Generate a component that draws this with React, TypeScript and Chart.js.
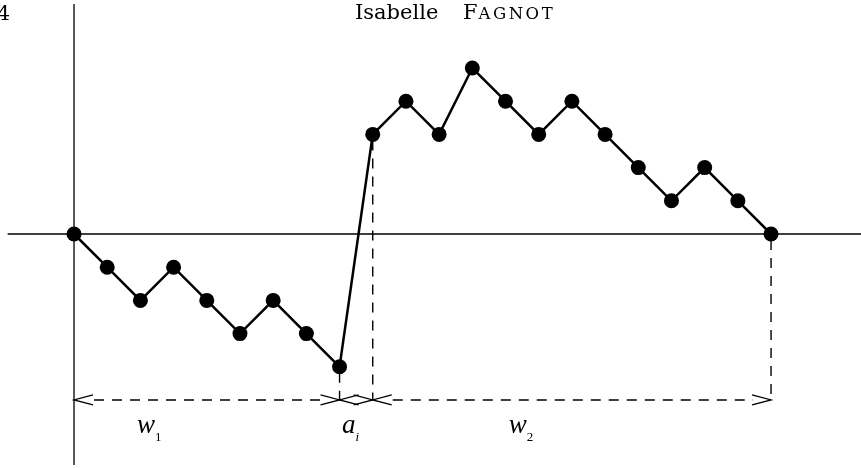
import { useEffect, useRef } from 'react';
import { Chart, registerables } from 'chart.js';

Chart.register(...registerables);

// Step index of the walk (horizontal position of each vertex)
const steps = [0, 1, 2, 3, 4, 5, 6, 7, 8, 9, 10, 11, 12, 13, 14, 15, 16, 17, 18, 19, 20, 21];
// Height of the walk at each step
const walk = [0, -1, -2, -1, -2, -3, -2, -3, -4, 3, 4, 3, 5, 4, 3, 4, 3, 2, 1, 2, 1, 0];
// Steps bounding the segments w1, a_i, w2
const w1Range = [0, 8];
const aiRange = [8, 9];
const w2Range = [9, 21];
// Level of the measuring arrows and of the labels
const arrowLevel = -5;
const labelLevel = -6;
// Labels: [main letter, subscript, anchor step]
const segLabels: [string, string, number][] = [
  ['w', '1', 1.9],
  ['a', 'i', 8.07],
  ['w', '2', 13.1],
];
const pageNumber = '4';
const authorFirst = 'Isabelle';
const authorLast = 'Fagnot';

const figurePlugin = {
  id: 'figure',
  beforeDatasetsDraw(chart: any) {
    const ctx: CanvasRenderingContext2D = chart.ctx;
    const xs = chart.scales.x;
    const ys = chart.scales.y;
    const px = (v: number) => xs.getPixelForValue(v);
    const py = (v: number) => ys.getPixelForValue(v);
    const area = chart.chartArea;
    ctx.save();
    // axes
    ctx.strokeStyle = '#000';
    ctx.lineWidth = 1.3;
    ctx.beginPath();
    ctx.moveTo(px(-2), py(0));
    ctx.lineTo(area.right, py(0));
    ctx.moveTo(px(0), area.top + 4);
    ctx.lineTo(px(0), area.bottom - 3);
    ctx.stroke();

    // dashed guides
    ctx.strokeStyle = '#000';
    ctx.lineWidth = 1.4;
    ctx.setLineDash([10, 8]);
    const verticals = [aiRange[0], aiRange[1], w2Range[1]];
    ctx.beginPath();
    for (const s of verticals) {
      ctx.moveTo(px(s), py(walk[s]) + 6);
      ctx.lineTo(px(s), py(arrowLevel));
    }
    ctx.stroke();
    ctx.beginPath();
    ctx.moveTo(px(w1Range[0]) + 20, py(arrowLevel));
    ctx.lineTo(px(w1Range[1]) - 18, py(arrowLevel));
    ctx.stroke();
    ctx.beginPath();
    ctx.moveTo(px(w2Range[0]) + 20, py(arrowLevel));
    ctx.lineTo(px(w2Range[1]) - 18, py(arrowLevel));
    ctx.stroke();
    ctx.setLineDash([]);

    // arrow heads
    ctx.strokeStyle = '#000';
    ctx.lineWidth = 1.3;
    const head = (x: number, y: number, dir: number) => {
      ctx.beginPath();
      ctx.moveTo(x - dir * 19, y - 5);
      ctx.lineTo(x, y);
      ctx.lineTo(x - dir * 19, y + 5);
      ctx.stroke();
    };
    const ay = py(arrowLevel);
    for (const r of [w1Range, aiRange, w2Range]) {
      head(px(r[0]), ay, -1);
      head(px(r[1]), ay, 1);
    }
    ctx.restore();
  },
  afterDraw(chart: any) {
    const ctx: CanvasRenderingContext2D = chart.ctx;
    const xs = chart.scales.x;
    const ys = chart.scales.y;
    const px = (v: number) => xs.getPixelForValue(v);
    const py = (v: number) => ys.getPixelForValue(v);
    ctx.save();
    ctx.fillStyle = '#000';
    ctx.textBaseline = 'alphabetic';
    // running header
    ctx.font = '21px "DejaVu Serif"';
    ctx.textAlign = 'right';
    ctx.fillText(pageNumber, 10, 20);
    ctx.textAlign = 'left';
    ctx.fillText(authorFirst, 355, 19);
    const big = authorLast.charAt(0).toUpperCase();
    ctx.fillText(big, 463, 19);
    const fw = ctx.measureText(big).width;
    ctx.font = '16.5px "DejaVu Serif"';
    (ctx as any).letterSpacing = '2.5px';
    ctx.fillText(authorLast.slice(1).toUpperCase(), 463 + fw + 1, 19);
    (ctx as any).letterSpacing = '0px';

    // segment labels
    for (const [main, sub, at] of segLabels) {
      const x = px(at);
      const y = py(labelLevel);
      ctx.font = 'italic 27px "Liberation Serif"';
      ctx.fillText(main, x, y);
      const w = ctx.measureText(main).width;
      if (sub === 'i') {
        ctx.font = 'italic 13px "Liberation Serif"';
      } else {
        ctx.font = '13px "Liberation Serif"';
      }
      ctx.fillText(sub, x + w, y + 8);
    }
    ctx.restore();
  },
};

export default function App() {
  const ref = useRef<HTMLCanvasElement | null>(null);
  useEffect(() => {
    if (!ref.current) return;
    const chart = new Chart(ref.current, {
      type: 'scatter',
      data: {
        datasets: [
          {
            data: steps.map((s, i) => ({ x: s, y: walk[i] })),
            showLine: true,
            borderColor: '#000',
            backgroundColor: '#000',
            borderWidth: 2.5,
            pointRadius: 7.5,
            pointBorderWidth: 0,
            pointBackgroundColor: '#000',
            pointHoverRadius: 7.5,
            tension: 0,
          } as any,
        ],
      },
      options: {
        animation: false,
        responsive: false,
        devicePixelRatio: 1,
        layout: { padding: 0, autoPadding: false },
        events: [],
        scales: {
          x: { type: 'linear', min: -2.23, max: 23.71, display: false },
          y: { type: 'linear', min: -7.05, max: 7.05, display: false },
        },
        plugins: {
          legend: { display: false },
          tooltip: { enabled: false },
        },
      },
      plugins: [figurePlugin],
    });
    return () => chart.destroy();
  }, []);
  return (
    <div style={{ position: 'fixed', left: 0, top: 0, width: 861, height: 468, background: '#fff' }}>
      <canvas ref={ref} width={861} height={468} style={{ display: 'block' }} />
    </div>
  );
}
